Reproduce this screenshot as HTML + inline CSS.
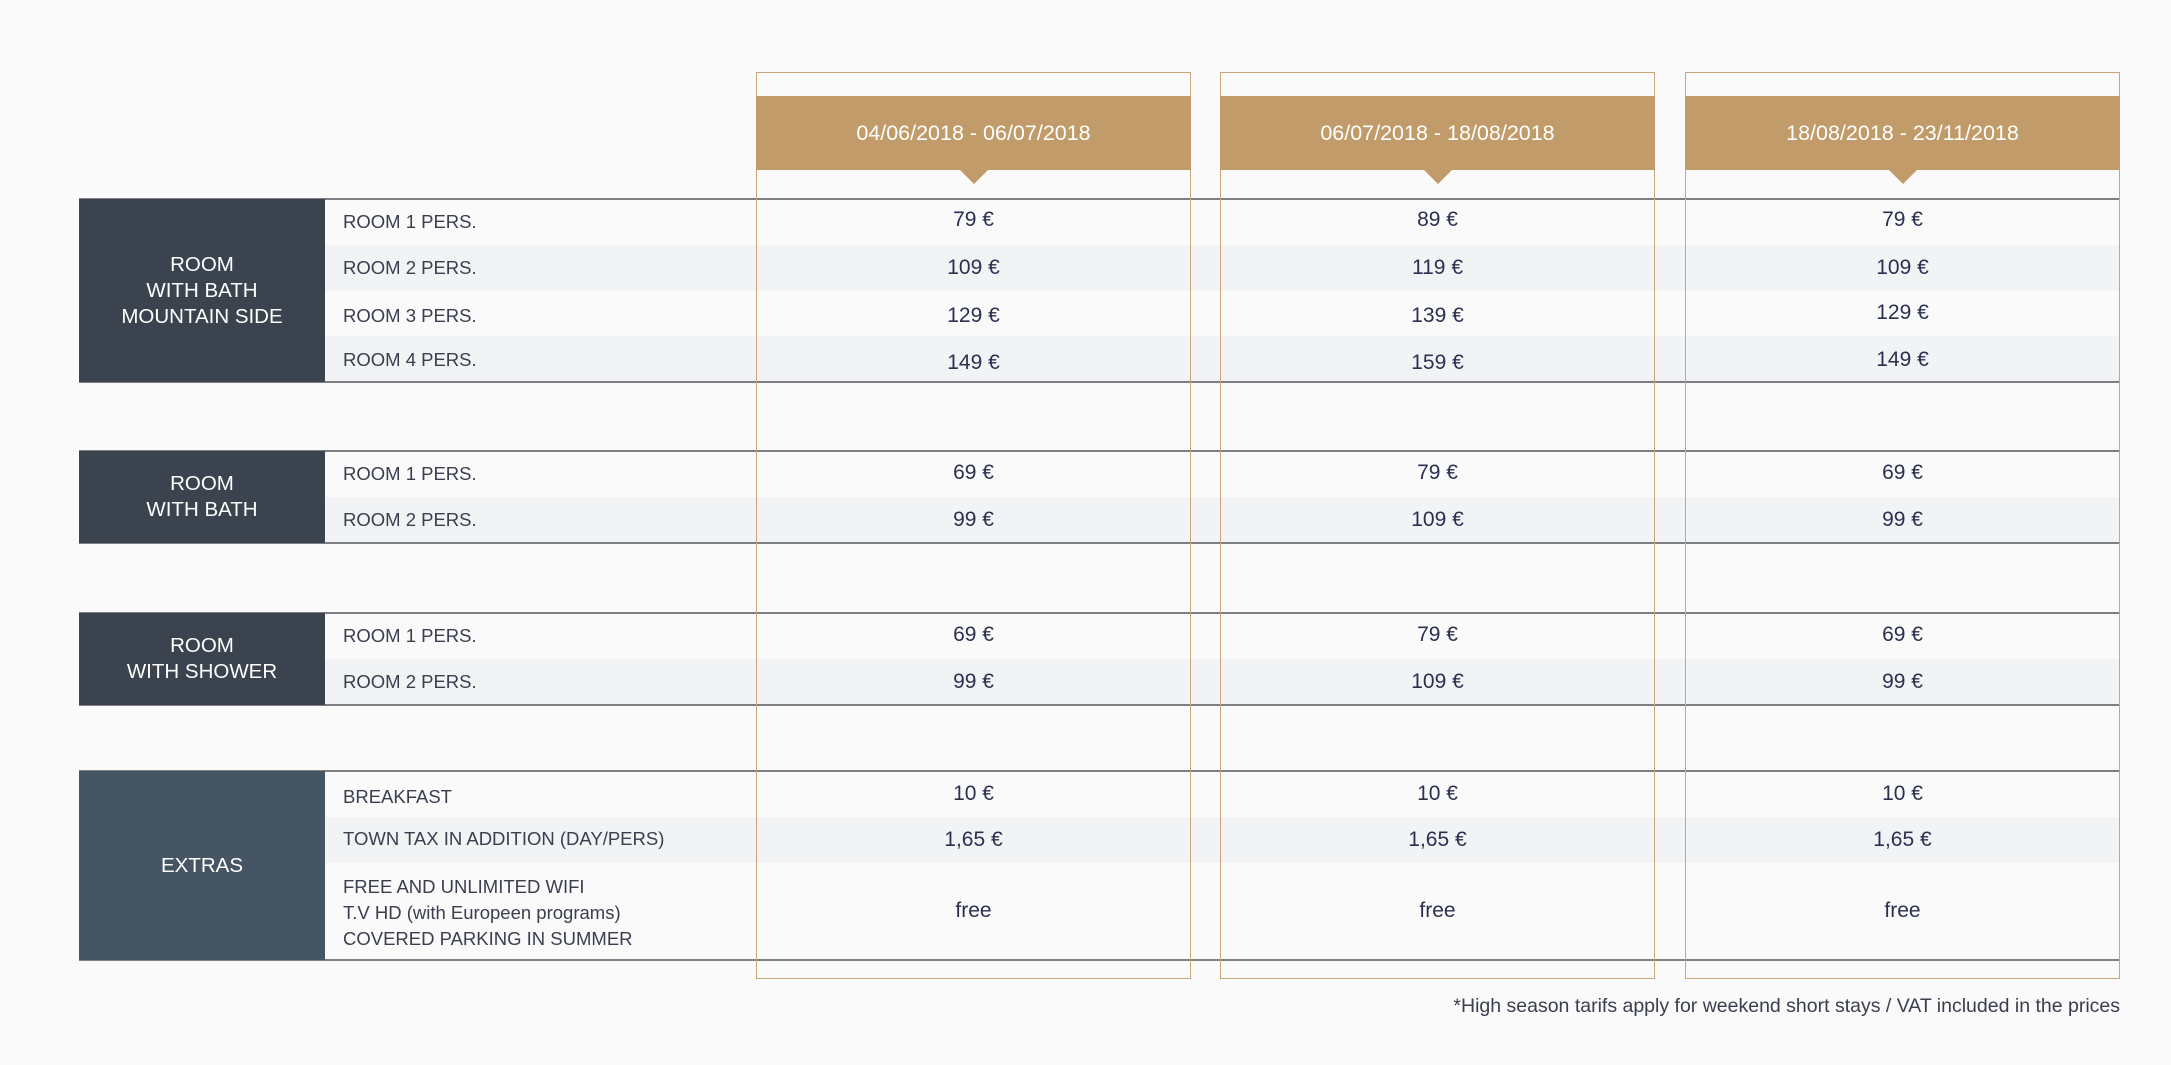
<!DOCTYPE html>
<html><head><meta charset="utf-8"><style>
*{margin:0;padding:0;box-sizing:border-box}
body{width:2171px;height:1065px;background:#fafafa;position:relative;overflow:hidden;font-family:"Liberation Sans",sans-serif;color:#2b3050}
.a{position:absolute}
.sh{background:#f2f3f5}
.ln{position:absolute;left:79px;width:2041px;height:2px;background:#7d7f84}
.lab{position:absolute;color:#fff;font-size:20.5px;text-align:center;line-height:26px;display:flex;align-items:center;justify-content:center;left:79px;width:246px}
.rt{position:absolute;left:343px;font-size:18.5px;color:#3a3e4e;line-height:20px}
.box{position:absolute;top:72px;height:907px;border:1.5px solid #c9a57a}
.hd{position:absolute;top:96px;height:74px;background:#c19b69;color:#fff;font-size:21.5px;display:flex;align-items:center;justify-content:center}
.tri{position:absolute;top:170px;width:0;height:0;border-left:14px solid transparent;border-right:14px solid transparent;border-top:14px solid #c19b69}
.p{position:absolute;font-size:21px;text-align:center;width:435px;line-height:24px}
</style></head><body>
<div class="a sh" style="left:325px;top:245px;width:1795px;height:46px"></div>
<div class="a sh" style="left:325px;top:336px;width:1795px;height:46px"></div>
<div class="a sh" style="left:325px;top:497px;width:1795px;height:46px"></div>
<div class="a sh" style="left:325px;top:659px;width:1795px;height:46px"></div>
<div class="a sh" style="left:325px;top:817px;width:1795px;height:46px"></div>
<div class="ln" style="top:198px"></div><div class="ln" style="top:381px"></div>
<div class="ln" style="top:450px"></div><div class="ln" style="top:542px"></div>
<div class="ln" style="top:612px"></div><div class="ln" style="top:704px"></div>
<div class="ln" style="top:770px"></div><div class="ln" style="top:959px"></div>
<div class="lab" style="top:199px;height:183px;background:#3b434e">ROOM<br>WITH BATH<br>MOUNTAIN SIDE</div>
<div class="lab" style="top:451px;height:92px;background:#3b434e">ROOM<br>WITH BATH</div>
<div class="lab" style="top:613px;height:92px;background:#3b434e">ROOM<br>WITH SHOWER</div>
<div class="lab" style="top:771px;height:189px;background:#465563">EXTRAS</div>
<div class="rt" style="top:212px">ROOM 1 PERS.</div>
<div class="rt" style="top:258px">ROOM 2 PERS.</div>
<div class="rt" style="top:306px">ROOM 3 PERS.</div>
<div class="rt" style="top:350px">ROOM 4 PERS.</div>
<div class="rt" style="top:464px">ROOM 1 PERS.</div>
<div class="rt" style="top:510px">ROOM 2 PERS.</div>
<div class="rt" style="top:626px">ROOM 1 PERS.</div>
<div class="rt" style="top:672px">ROOM 2 PERS.</div>
<div class="rt" style="top:787px">BREAKFAST</div>
<div class="rt" style="top:829px">TOWN TAX IN ADDITION (DAY/PERS)</div>
<div class="rt" style="top:874px;line-height:26px">FREE AND UNLIMITED WIFI<br>T.V HD (with Europeen programs)<br>COVERED PARKING IN SUMMER</div>
<div class="box" style="left:756px;width:435px"></div>
<div class="box" style="left:1220px;width:435px"></div>
<div class="box" style="left:1685px;width:435px"></div>
<div class="hd" style="left:756px;width:435px">04/06/2018 - 06/07/2018</div>
<div class="hd" style="left:1220px;width:435px">06/07/2018 - 18/08/2018</div>
<div class="hd" style="left:1685px;width:435px">18/08/2018 - 23/11/2018</div>
<div class="tri" style="left:960px"></div>
<div class="tri" style="left:1424px"></div>
<div class="tri" style="left:1889px"></div>
<div class="p" style="left:756px;top:208px">79 €</div>
<div class="p" style="left:756px;top:256px">109 €</div>
<div class="p" style="left:756px;top:304px">129 €</div>
<div class="p" style="left:756px;top:351px">149 €</div>
<div class="p" style="left:756px;top:461px">69 €</div>
<div class="p" style="left:756px;top:508px">99 €</div>
<div class="p" style="left:756px;top:623px">69 €</div>
<div class="p" style="left:756px;top:670px">99 €</div>
<div class="p" style="left:756px;top:782px">10 €</div>
<div class="p" style="left:756px;top:828px">1,65 €</div>
<div class="p" style="left:756px;top:899px">free</div>
<div class="p" style="left:1220px;top:208px">89 €</div>
<div class="p" style="left:1220px;top:256px">119 €</div>
<div class="p" style="left:1220px;top:304px">139 €</div>
<div class="p" style="left:1220px;top:351px">159 €</div>
<div class="p" style="left:1220px;top:461px">79 €</div>
<div class="p" style="left:1220px;top:508px">109 €</div>
<div class="p" style="left:1220px;top:623px">79 €</div>
<div class="p" style="left:1220px;top:670px">109 €</div>
<div class="p" style="left:1220px;top:782px">10 €</div>
<div class="p" style="left:1220px;top:828px">1,65 €</div>
<div class="p" style="left:1220px;top:899px">free</div>
<div class="p" style="left:1685px;top:208px">79 €</div>
<div class="p" style="left:1685px;top:256px">109 €</div>
<div class="p" style="left:1685px;top:301px">129 €</div>
<div class="p" style="left:1685px;top:348px">149 €</div>
<div class="p" style="left:1685px;top:461px">69 €</div>
<div class="p" style="left:1685px;top:508px">99 €</div>
<div class="p" style="left:1685px;top:623px">69 €</div>
<div class="p" style="left:1685px;top:670px">99 €</div>
<div class="p" style="left:1685px;top:782px">10 €</div>
<div class="p" style="left:1685px;top:828px">1,65 €</div>
<div class="p" style="left:1685px;top:899px">free</div>
<div class="a" style="right:51px;top:995px;font-size:19.5px;color:#3a3e4e">*High season tarifs apply for weekend short stays / VAT included in the prices</div>
</body></html>
